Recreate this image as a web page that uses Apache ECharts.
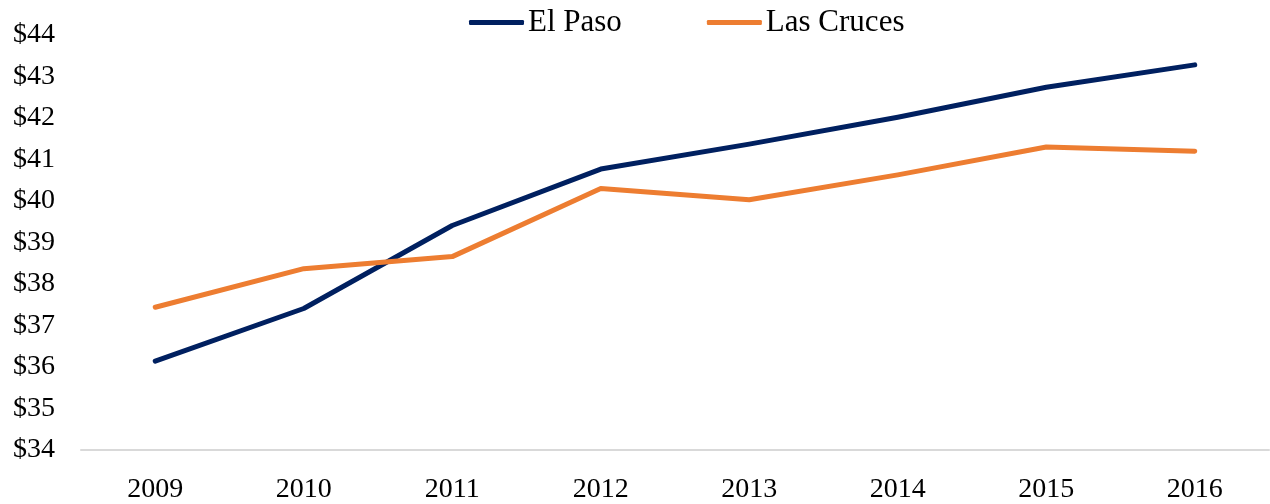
<!DOCTYPE html>
<html>
<head>
<meta charset="utf-8">
<script src="https://cdn.jsdelivr.net/npm/echarts@6/dist/echarts.min.js"></script>
<style>
  html, body { margin: 0; padding: 0; background: #fff; }
  #chart { width: 1270px; height: 504px; }
</style>
</head>
<body>
<div id="chart"></div>
<script>
// data
var years = ["2009", "2010", "2011", "2012", "2013", "2014", "2015", "2016"];
var elPaso = [36.14, 37.41, 39.41, 40.77, 41.37, 42.02, 42.74, 43.28];
var lasCruces = [37.44, 38.37, 38.66, 40.30, 40.03, 40.63, 41.30, 41.20];

var myChart = echarts.init(document.getElementById("chart"));
var font = "'Liberation Serif', 'DejaVu Serif', serif";

var option = {
  animation: false,
  textStyle: { fontFamily: font },
  legend: {
    top: 2,
    left: 464,
    icon: "roundRect",
    itemWidth: 55,
    itemHeight: 5,
    itemGap: 85,
    textStyle: { fontFamily: font, fontSize: 31, color: "#000", padding: [0, 0, 0, -1] },
    data: ["El Paso", "Las Cruces"]
  },
  grid: { left: 81, right: 1, top: 35, bottom: 54 },
  xAxis: {
    type: "category",
    data: years,
    axisTick: { show: false },
    axisLine: { lineStyle: { color: "#d9d9d9", width: 2 } },
    axisLabel: { color: "#000", fontSize: 28, fontFamily: font, margin: 26 }
  },
  yAxis: {
    type: "value",
    min: 34,
    max: 44,
    interval: 1,
    splitLine: { show: false },
    axisLine: { show: false },
    axisTick: { show: false },
    axisLabel: {
      color: "#000",
      fontSize: 28,
      fontFamily: font,
      margin: 26,
      formatter: "${value}"
    }
  },
  series: [
    {
      name: "El Paso",
      type: "line",
      data: elPaso,
      symbol: "none",
      itemStyle: { color: "#002060" },
      lineStyle: { color: "#002060", width: 5, cap: "round", join: "round" }
    },
    {
      name: "Las Cruces",
      type: "line",
      data: lasCruces,
      symbol: "none",
      itemStyle: { color: "#ED7D31" },
      lineStyle: { color: "#ED7D31", width: 5, cap: "round", join: "round" }
    }
  ]
};

myChart.setOption(option);
</script>
</body>
</html>
